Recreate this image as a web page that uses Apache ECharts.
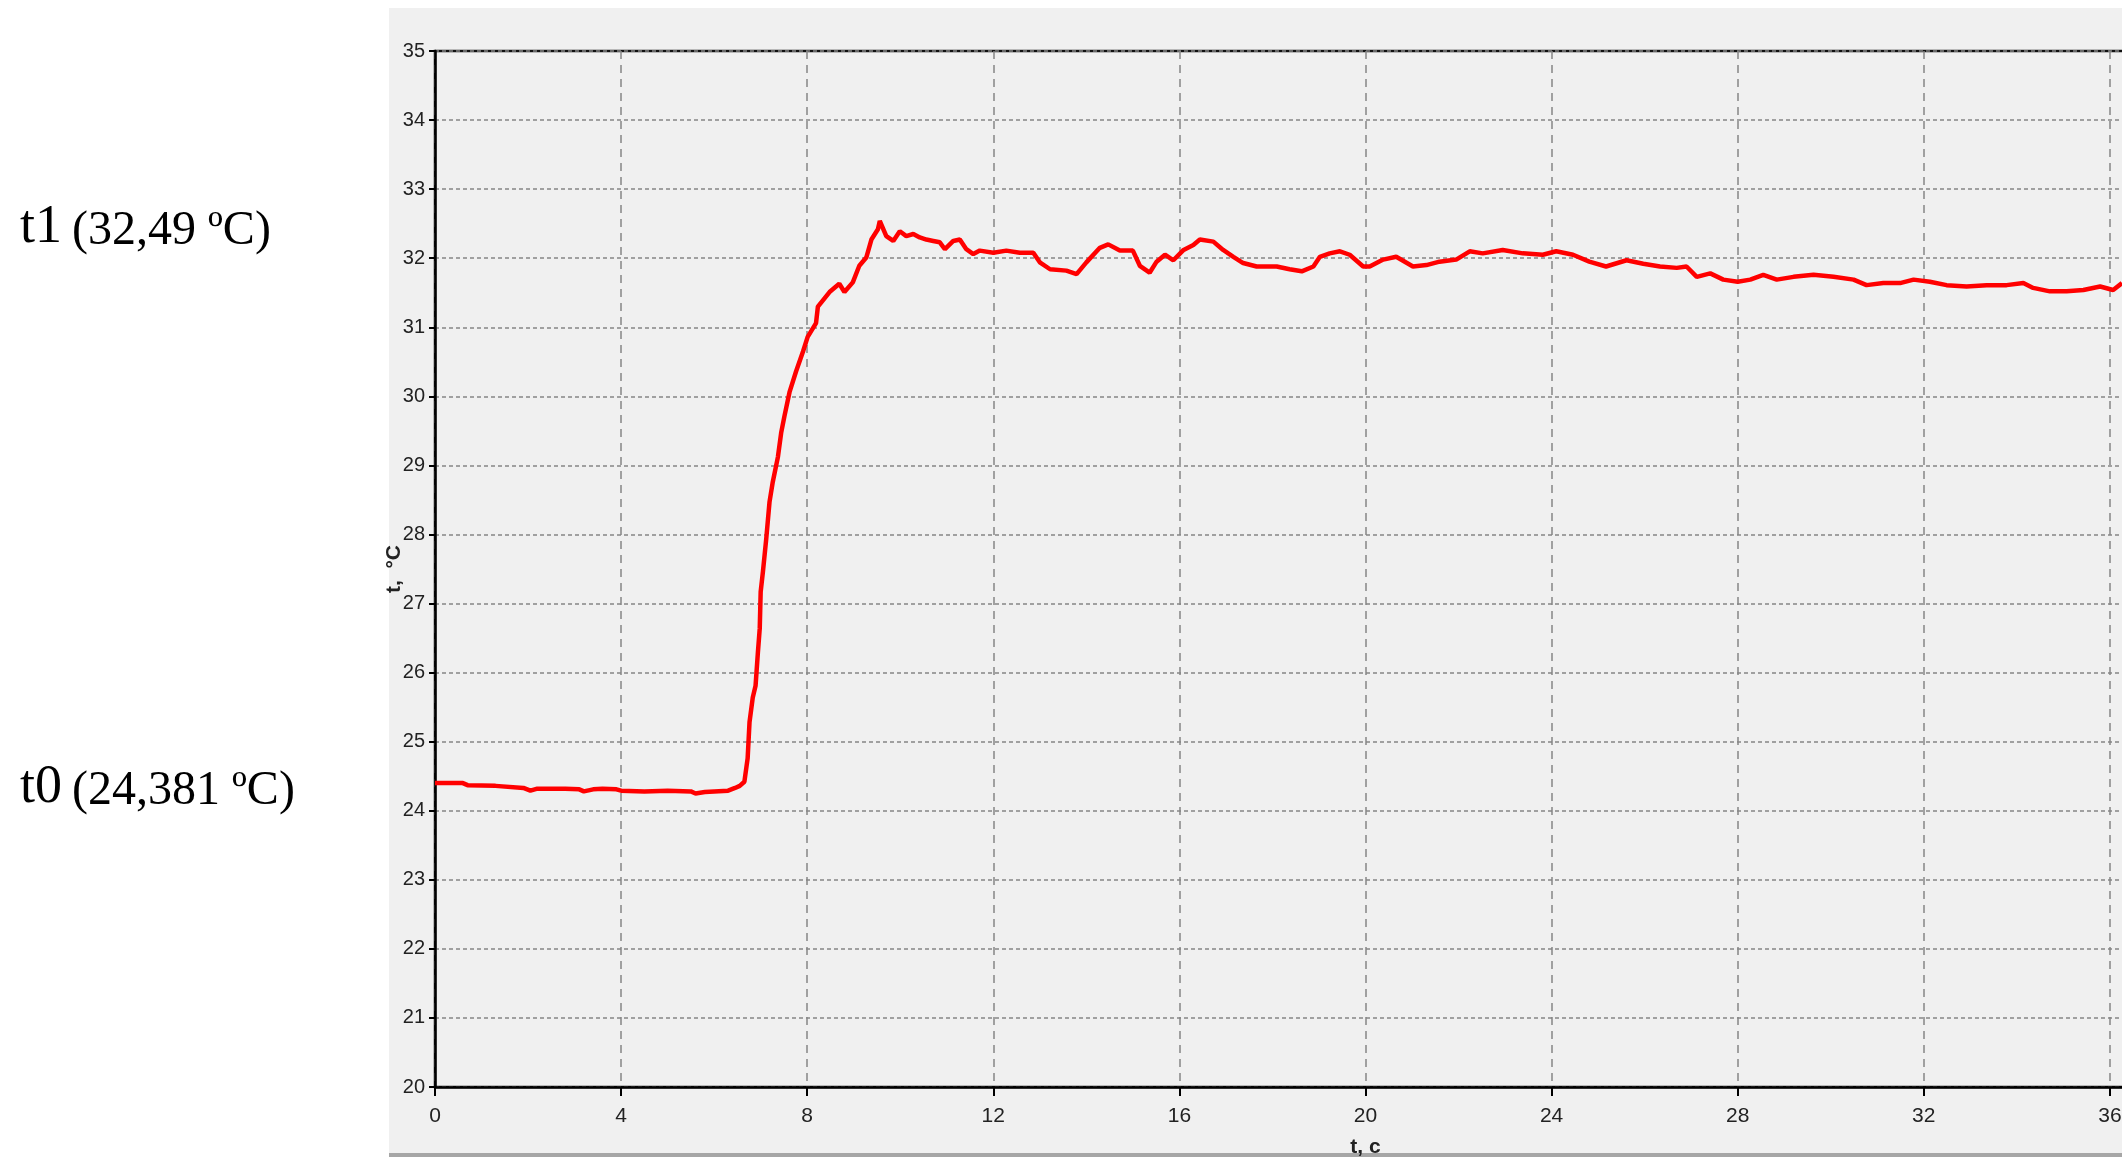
<!DOCTYPE html>
<html>
<head>
<meta charset="utf-8">
<style>
html,body{margin:0;padding:0;background:#fff;}
#panel{position:absolute;left:389px;top:8px;width:1733px;height:1145px;background:#f0f0f0;}
#bar{position:absolute;left:389px;top:1153px;width:1733px;height:4px;background:#a6a6a6;}
#chart{position:absolute;left:0;top:0;width:2122px;height:1157px;}
</style>
<script src="https://cdn.jsdelivr.net/npm/echarts@6/dist/echarts.min.js"></script>
</head>
<body>
<div id="panel"></div>
<div id="bar"></div>
<div id="chart"></div>
<script>
// time, s
const times = [0,0.6,0.7,1.3,1.9,2.05,2.2,2.8,3.1,3.2,3.4,3.6,3.9,4.0,4.5,5.0,5.5,5.6,5.8,6.0,6.3,6.45,6.55,6.65,
6.72,6.76,6.83,6.89,6.94,6.98,7.00,7.05,7.12,7.19,7.26,7.37,7.44,7.51,7.62,7.76,7.91,8.01,8.19,8.23,8.48,8.69,8.80,8.98,
9.12,9.27,9.38,9.52,9.56,9.70,9.85,9.99,10.13,10.28,10.42,10.56,10.71,10.85,10.96,11.14,11.28,11.42,11.57,11.71,
12.0,12.28,12.57,12.86,13.0,13.22,13.57,13.79,14.0,14.29,14.47,14.72,15.0,15.15,15.36,15.51,15.69,15.87,16.09,16.30,
16.44,16.73,16.94,17.16,17.37,17.66,18.09,18.37,18.63,18.88,19.02,19.23,19.45,19.66,19.95,20.09,20.38,20.66,21.02,
21.31,21.59,21.95,22.24,22.52,22.95,23.38,23.81,24.10,24.46,24.81,25.17,25.61,25.97,26.33,26.69,26.90,27.12,27.41,
27.69,28.0,28.27,28.55,28.84,29.2,29.63,30.06,30.49,30.77,31.13,31.49,31.78,32.13,32.49,32.92,33.35,33.78,34.14,
34.35,34.71,35.07,35.43,35.79,36.07,36.26];
// temperature, °C
const temps = [24.40,24.40,24.37,24.36,24.33,24.29,24.32,24.32,24.31,24.28,24.31,24.32,24.31,24.29,24.28,24.29,24.28,24.25,24.27,24.28,24.29,24.33,24.36,24.42,
24.76,25.28,25.64,25.81,26.29,26.64,27.17,27.47,27.94,28.47,28.76,29.12,29.47,29.71,30.06,30.36,30.65,30.86,31.06,31.30,31.51,31.63,31.51,31.65,
31.89,32.01,32.27,32.42,32.54,32.32,32.25,32.39,32.32,32.35,32.30,32.27,32.25,32.23,32.13,32.25,32.27,32.13,32.06,32.11,
32.08,32.11,32.08,32.08,31.94,31.84,31.82,31.77,31.94,32.15,32.20,32.11,32.11,31.89,31.79,31.95,32.05,31.97,32.12,32.19,
32.27,32.24,32.12,32.02,31.93,31.88,31.88,31.84,31.81,31.88,32.02,32.07,32.10,32.05,31.88,31.88,31.98,32.02,31.88,
31.90,31.95,31.98,32.10,32.07,32.12,32.07,32.05,32.10,32.05,31.95,31.88,31.97,31.92,31.88,31.86,31.88,31.73,31.78,
31.69,31.66,31.69,31.76,31.69,31.73,31.76,31.73,31.69,31.61,31.64,31.64,31.69,31.66,31.61,31.59,31.61,31.61,31.64,
31.57,31.52,31.52,31.54,31.59,31.54,31.64];
const xTicks = {min: 0, max: 40, interval: 4};
const yTicks = {min: 20, max: 35, interval: 1};
const xName = 't, c';
const yName = 't,  °C';
const labelT1 = ['t1', '(32,49 ºC)'];
const labelT0 = ['t0', '(24,381 ºC)'];

const data = times.map((t, i) => [t, temps[i]]);
const sans = "'Liberation Sans Narrow','Arial Narrow','Liberation Sans',Arial,sans-serif";
const serif = "'Liberation Serif','Times New Roman',serif";

const chart = echarts.init(document.getElementById('chart'), null, {renderer: 'canvas'});
chart.setOption({
  animation: false,
  backgroundColor: 'transparent',
  grid: {left: 435, top: 51, height: 1036, width: 1861, outerBoundsMode: 'none', show: true, borderColor: '#111', borderWidth: 2.5, backgroundColor: 'transparent', containLabel: false},
  xAxis: {
    type: 'value', min: xTicks.min, max: xTicks.max, interval: xTicks.interval,
    name: xName, nameLocation: 'middle', nameGap: 50, nameMoveOverlap: false,
    nameTextStyle: {fontFamily: sans, fontWeight: 'bold', fontSize: 21, color: '#222'},
    axisLine: {show: true, lineStyle: {color: '#000', width: 2.5}},
    axisTick: {show: true, inside: false, length: 9, lineStyle: {color: '#000', width: 2}},
    axisLabel: {fontFamily: sans, fontSize: 21, color: '#222', margin: 19},
    splitLine: {show: true, lineStyle: {color: '#858585', width: 1.5, type: [8, 6]}}
  },
  yAxis: {
    type: 'value', min: yTicks.min, max: yTicks.max, interval: yTicks.interval,
    name: yName, nameLocation: 'middle', nameGap: 30, nameRotate: 90, nameMoveOverlap: false,
    nameTextStyle: {fontFamily: sans, fontWeight: 'bold', fontSize: 21, color: '#222'},
    axisLine: {show: true, lineStyle: {color: '#000', width: 2.5}},
    axisTick: {show: true, inside: false, length: 6, lineStyle: {color: '#000', width: 2}},
    axisLabel: {fontFamily: sans, fontSize: 20, color: '#222', margin: 10},
    splitLine: {show: true, lineStyle: {color: '#858585', width: 1.5, type: [4, 3]}}
  },
  series: [{
    type: 'line', data: data, showSymbol: false, symbol: 'none',
    lineStyle: {color: '#ff0000', width: 4.5}, itemStyle: {color: '#ff0000'}, z: 5
  }],
  graphic: [
    {type: 'text', left: 20, top: 201, style: {text: labelT1[0], font: '54px ' + serif, fill: '#000'}},
    {type: 'text', left: 72, top: 207, style: {text: labelT1[1], font: '48px ' + serif, fill: '#000'}},
    {type: 'text', left: 20, top: 761, style: {text: labelT0[0], font: '54px ' + serif, fill: '#000'}},
    {type: 'text', left: 72, top: 767, style: {text: labelT0[1], font: '48px ' + serif, fill: '#000'}}
  ]
});
</script>
</body>
</html>
